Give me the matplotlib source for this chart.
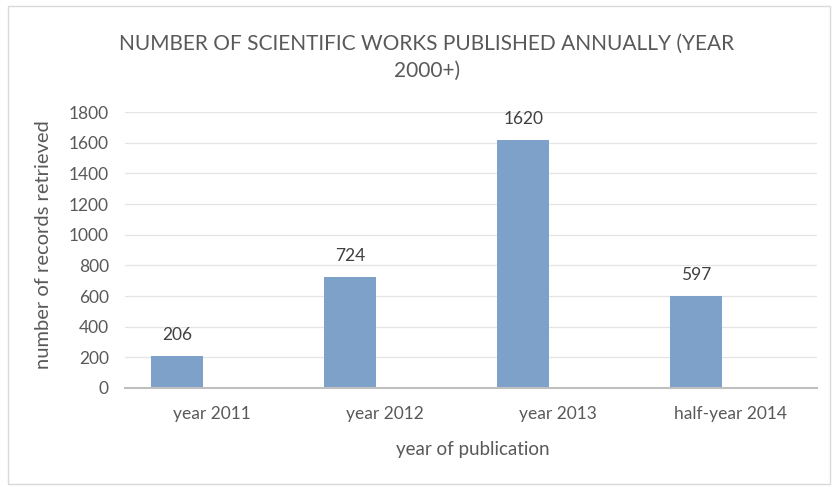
import matplotlib
matplotlib.use("Agg")
import matplotlib.pyplot as plt
from matplotlib.patches import Rectangle

categories = ["year 2011", "year 2012", "year 2013", "half-year 2014"]
values = [206, 724, 1620, 597]
yticks = [0, 200, 400, 600, 800, 1000, 1200, 1400, 1600, 1800]
title = "NUMBER OF SCIENTIFIC WORKS PUBLISHED ANNUALLY (YEAR\n2000+)"
xlabel = "year of publication"
ylabel = "number of records retrieved"

plt.rcParams['font.family'] = ['Lato', 'DejaVu Sans']

W, H = 837, 487
fig = plt.figure(figsize=(W / 100, H / 100), dpi=100)
fig.patches.append(Rectangle((8 / W, 1 - 484 / H), (830 - 8) / W, (484 - 6) / H,
                             transform=fig.transFigure, fill=False,
                             edgecolor="#d9d9d9", linewidth=1.0))

left, right, top, bottom = 125.5, 817.5, 112, 388
ax = fig.add_axes([left / W, 1 - bottom / H, (right - left) / W, (bottom - top) / H])

x = list(range(len(categories)))
offset = -0.20
bw = 0.30
ax.bar([i + offset for i in x], values, width=bw, color="#7ea1ca", zorder=3)
for xi, v in zip(x, values):
    ax.text(xi + offset, v + 85, str(v), ha="center", va="bottom",
            fontsize=12.5, color="#404040")

ax.set_xlim(-0.5, len(categories) - 0.5)
ax.set_ylim(0, 1800)
ax.set_yticks(yticks)
ax.set_yticklabels([str(t) for t in yticks], fontsize=12.5, color="#595959")
ax.set_xticks(x)
ax.set_xticklabels(categories, fontsize=12.5, color="#595959")
ax.tick_params(axis="both", length=0)
ax.tick_params(axis="y", pad=12)
ax.tick_params(axis="x", pad=13)
ax.grid(axis="y", color="#e4e4e4", linewidth=0.9, zorder=0)
for s in ["top", "right", "left"]:
    ax.spines[s].set_visible(False)
ax.spines["bottom"].set_color("#bfbfbf")
ax.spines["bottom"].set_linewidth(1.5)
ax.spines["bottom"].set_zorder(4)

fig.text(473 / W, 1 - 449 / H, xlabel, ha="center", va="center",
         fontsize=13.5, color="#595959")
fig.text(44 / W, 1 - 245 / H, ylabel, ha="center", va="center", rotation=90,
         fontsize=14.5, color="#595959")
fig.text(427 / W, 1 - 57 / H, title, ha="center", va="center",
         fontsize=15, color="#595959", linespacing=1.45)

fig.savefig("out.png", dpi=100)
